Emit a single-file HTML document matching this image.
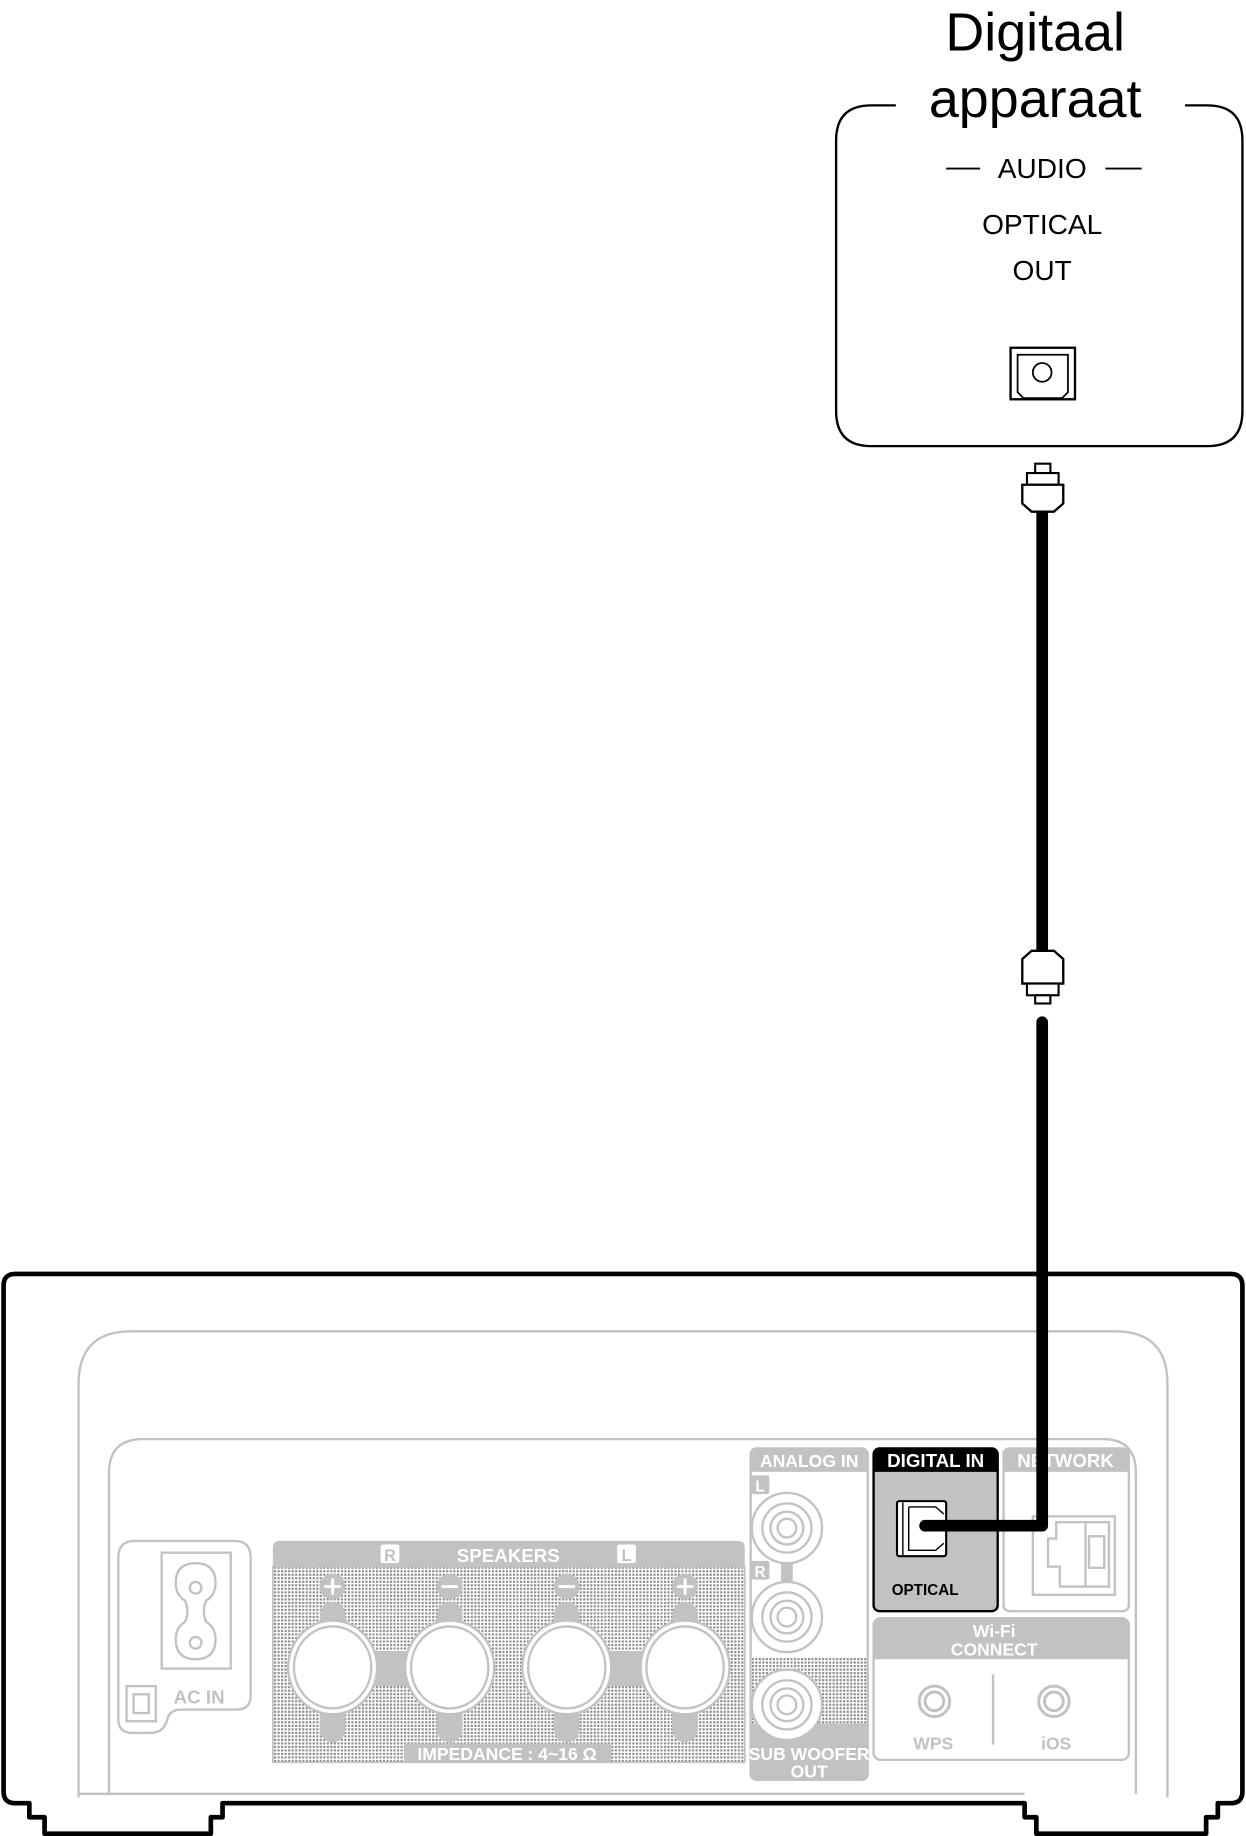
<!DOCTYPE html>
<html><head><meta charset="utf-8"><style>
html,body{margin:0;padding:0;background:#fff}
svg{display:block}
text{font-family:"Liberation Sans",Arial,sans-serif}
</style></head><body>
<svg width="1246" height="1836" viewBox="0 0 1064 1568" xmlns="http://www.w3.org/2000/svg">
<defs>
<pattern id="dots" width="3" height="3" patternUnits="userSpaceOnUse">
<rect width="3" height="3" fill="#fff"/><rect width="1.8" height="1.8" fill="#8a8a8a"/>
</pattern>
</defs>
<!-- Top device -->
<text x="884" y="43" font-size="46" text-anchor="middle">Digitaal</text>
<text x="884" y="100" font-size="46" text-anchor="middle">apparaat</text>
<path d="M765 90 H744 Q714 90 714 120 V351 Q714 381 744 381 H1031 Q1061 381 1061 351 V120 Q1061 90 1031 90 H1012" fill="none" stroke="#000" stroke-width="2"/>
<line x1="808" y1="144" x2="837" y2="144" stroke="#000" stroke-width="1.6"/>
<line x1="944" y1="144" x2="975" y2="144" stroke="#000" stroke-width="1.6"/>
<text x="890" y="152" font-size="24" text-anchor="middle">AUDIO</text>
<text x="890" y="200" font-size="24" text-anchor="middle">OPTICAL</text>
<text x="890" y="239" font-size="24" text-anchor="middle">OUT</text>
<rect x="863" y="297" width="55" height="44" fill="none" stroke="#000" stroke-width="2"/>
<path d="M869 303 H912 V335 L907 340 H874 L869 335 Z" fill="none" stroke="#000" stroke-width="1.5"/>
<circle cx="890" cy="318" r="8" fill="none" stroke="#000" stroke-width="1.5"/>
<!-- upper plug -->
<rect x="884" y="396" width="13" height="8" fill="#fff" stroke="#000" stroke-width="1.8"/>
<rect x="877" y="404" width="27" height="10" fill="#fff" stroke="#000" stroke-width="1.8"/>
<path d="M873 414 H908 V430 L900 437 H881 L873 430 Z" fill="#fff" stroke="#000" stroke-width="2"/>
<line x1="890" y1="437" x2="890" y2="812" stroke="#000" stroke-width="10"/>
<!-- lower plug -->
<path d="M881 812 H900 L908 819 V840 H873 V819 Z" fill="#fff" stroke="#000" stroke-width="2"/>
<rect x="877" y="840" width="27" height="10" fill="#fff" stroke="#000" stroke-width="1.8"/>
<rect x="884" y="850" width="13" height="7" fill="#fff" stroke="#000" stroke-width="1.8"/>
<!-- main frame -->
<path d="M25 1540 H13 Q3 1540 3 1530 V1098 Q3 1088 13 1088 H1051 Q1061 1088 1061 1098 V1530 Q1061 1540 1051 1540 H1040 V1552 H1030 V1566 H885 V1552 H875 V1540 H190 V1552 H180 V1566 H38 V1552 H25 Z" fill="#fff" stroke="#000" stroke-width="4" stroke-linejoin="round"/>
<!-- housing -->
<g fill="none" stroke="#c2c2c2" stroke-width="2">
<path d="M67 1535 V1182 Q67 1137 112 1137 H952 Q997 1137 997 1182 V1535"/>
<path d="M93 1532 V1258 Q93 1229 122 1229 H942 Q970 1229 970 1258 V1532"/>
<path d="M67 1532 H875 M190 1532 H93"/>
<path d="M101 1330 Q101 1316 115 1316 H200 Q214 1316 214 1330 V1448 Q214 1460 202 1460 H155 Q145 1460 143 1468 Q140 1480 128 1480 H113 Q101 1480 101 1468 Z"/>
<rect x="138" y="1326" width="59" height="99"/>
<path d="M150 1352 Q150 1335 167 1335 Q184 1335 184 1352 Q184 1362 176 1367 Q172 1376 176 1385 Q184 1390 184 1400 Q184 1417 167 1417 Q150 1417 150 1400 Q150 1390 158 1385 Q162 1376 158 1367 Q150 1362 150 1352 Z"/>
<circle cx="167" cy="1356" r="5"/><circle cx="167" cy="1403" r="5"/>
<rect x="108" y="1440" width="25" height="30"/><rect x="114" y="1447" width="13" height="16"/>
</g>
<text x="170" y="1455" font-size="16" font-weight="bold" fill="#c2c2c2" text-anchor="middle">AC IN</text>
<!-- speakers -->
<rect x="233" y="1338" width="403" height="167" fill="url(#dots)" stroke="#c2c2c2" stroke-width="1.5"/>
<path d="M233 1338 V1322 Q233 1316 239 1316 H630 Q636 1316 636 1322 V1338 Z" fill="#c2c2c2"/>
<text x="434" y="1334" font-size="16" font-weight="bold" fill="#fff" text-anchor="middle">SPEAKERS</text>
<rect x="325" y="1319" width="16" height="16" rx="2" fill="#fff"/><text x="333" y="1333" font-size="14" font-weight="bold" fill="#c2c2c2" text-anchor="middle">R</text>
<rect x="527" y="1319" width="16" height="16" rx="2" fill="#fff"/><text x="535" y="1333" font-size="14" font-weight="bold" fill="#c2c2c2" text-anchor="middle">L</text>
<rect x="284" y="1410" width="100" height="30" fill="#c2c2c2"/>
<rect x="484" y="1410" width="101" height="30" fill="#c2c2c2"/>
<g fill="#c2c2c2">
<rect x="273" y="1368" width="22" height="120" rx="11"/><rect x="373" y="1368" width="22" height="120" rx="11"/>
<rect x="473" y="1368" width="22" height="120" rx="11"/><rect x="574" y="1368" width="22" height="120" rx="11"/>
<circle cx="284" cy="1355" r="11"/><circle cx="384" cy="1355" r="11"/><circle cx="484" cy="1355" r="11"/><circle cx="585" cy="1355" r="11"/>
</g>
<g stroke="#fff" stroke-width="2.5">
<line x1="277" y1="1355" x2="291" y2="1355"/><line x1="284" y1="1348" x2="284" y2="1362"/>
<line x1="377" y1="1355" x2="391" y2="1355"/>
<line x1="477" y1="1355" x2="491" y2="1355"/>
<line x1="578" y1="1355" x2="592" y2="1355"/><line x1="585" y1="1348" x2="585" y2="1362"/>
</g>
<g fill="#fff" stroke="#c2c2c2" stroke-width="2">
<ellipse cx="284" cy="1424" rx="38" ry="40"/><ellipse cx="284" cy="1424" rx="33" ry="35"/>
<ellipse cx="384" cy="1424" rx="38" ry="40"/><ellipse cx="384" cy="1424" rx="33" ry="35"/>
<ellipse cx="484" cy="1424" rx="38" ry="40"/><ellipse cx="484" cy="1424" rx="33" ry="35"/>
<ellipse cx="585" cy="1424" rx="38" ry="40"/><ellipse cx="585" cy="1424" rx="33" ry="35"/>
</g>
<rect x="345" y="1489" width="177" height="16" fill="#c2c2c2"/>
<text x="433" y="1503" font-size="15" font-weight="bold" fill="#fff" text-anchor="middle">IMPEDANCE : 4~16 Ω</text>
<!-- analog in -->
<rect x="641" y="1237" width="100" height="283" rx="5" fill="#fff" stroke="#c2c2c2" stroke-width="2"/>
<rect x="642" y="1415" width="98" height="58" fill="url(#dots)"/>
<path d="M641 1257 V1242 Q641 1237 646 1237 H736 Q741 1237 741 1242 V1257 Z" fill="#c2c2c2"/>
<text x="691" y="1253" font-size="15" font-weight="bold" fill="#fff" text-anchor="middle">ANALOG IN</text>
<path d="M641 1472 H741 V1515 Q741 1520 736 1520 H646 Q641 1520 641 1515 Z" fill="#c2c2c2"/>
<text x="691" y="1503" font-size="15" font-weight="bold" fill="#fff" text-anchor="middle">SUB WOOFER</text>
<text x="691" y="1518" font-size="15" font-weight="bold" fill="#fff" text-anchor="middle">OUT</text>
<rect x="641" y="1260" width="16" height="16" rx="2" fill="#c2c2c2"/><text x="649" y="1274" font-size="13" font-weight="bold" fill="#fff" text-anchor="middle">L</text>
<rect x="641" y="1333" width="16" height="16" rx="2" fill="#c2c2c2"/><text x="649" y="1347" font-size="13" font-weight="bold" fill="#fff" text-anchor="middle">R</text>
<rect x="667" y="1320" width="10" height="45" fill="#c2c2c2"/>
<g fill="#fff" stroke="#c2c2c2" stroke-width="2">
<circle cx="672" cy="1305" r="30"/><circle cx="672" cy="1305" r="21"/><circle cx="672" cy="1305" r="14"/><circle cx="672" cy="1305" r="8"/>
<circle cx="672" cy="1381" r="30"/><circle cx="672" cy="1381" r="21"/><circle cx="672" cy="1381" r="14"/><circle cx="672" cy="1381" r="8"/>
<circle cx="672" cy="1456" r="30"/><circle cx="672" cy="1456" r="21"/><circle cx="672" cy="1456" r="14"/><circle cx="672" cy="1456" r="8"/>
</g>
<!-- digital in -->
<rect x="746" y="1237" width="106" height="139" rx="5" fill="#c2c2c2" stroke="#000" stroke-width="2"/>
<path d="M746 1257 V1242 Q746 1237 751 1237 H847 Q852 1237 852 1242 V1257 Z" fill="#000"/>
<text x="799" y="1253" font-size="16" font-weight="bold" fill="#fff" text-anchor="middle">DIGITAL IN</text>
<rect x="766" y="1282" width="42" height="47" rx="2" fill="#fff" stroke="#000" stroke-width="1.8"/>
<line x1="771" y1="1283" x2="771" y2="1328" stroke="#000" stroke-width="1.2"/>
<path d="M776 1287 H799 L806 1293 M806 1318 L799 1324 H776 V1287" fill="none" stroke="#000" stroke-width="1.2"/>
<text x="790" y="1362" font-size="13" font-weight="bold" fill="#000" text-anchor="middle">OPTICAL</text>
<!-- network -->
<rect x="857" y="1237" width="107" height="139" rx="5" fill="#fff" stroke="#c2c2c2" stroke-width="2"/>
<path d="M857 1257 V1242 Q857 1237 862 1237 H959 Q964 1237 964 1242 V1257 Z" fill="#c2c2c2"/>
<text x="910" y="1253" font-size="16" font-weight="bold" fill="#fff" text-anchor="middle">NETWORK</text>
<g fill="none" stroke="#c2c2c2" stroke-width="2">
<rect x="882" y="1295" width="70" height="67"/>
<path d="M927 1300 V1355 M902 1300 H947 V1355 H905 V1338 H895 V1314 H902 Z"/>
<rect x="930" y="1312" width="13" height="27"/>
</g>
<!-- cable lower -->
<path d="M890 873 V1303 H790" fill="none" stroke="#000" stroke-width="10" stroke-linecap="round" stroke-linejoin="round"/>
<!-- wifi -->
<rect x="746" y="1382" width="218" height="121" rx="6" fill="#fff" stroke="#c2c2c2" stroke-width="2"/>
<path d="M746 1417 V1388 Q746 1382 752 1382 H958 Q964 1382 964 1388 V1417 Z" fill="#c2c2c2"/>
<text x="849" y="1398" font-size="15" font-weight="bold" fill="#fff" text-anchor="middle">Wi-Fi</text>
<text x="849" y="1414" font-size="15" font-weight="bold" fill="#fff" text-anchor="middle">CONNECT</text>
<line x1="848" y1="1430" x2="848" y2="1490" stroke="#c2c2c2" stroke-width="2"/>
<g fill="none" stroke="#c2c2c2" stroke-width="2.5">
<circle cx="798" cy="1453" r="13"/><circle cx="798" cy="1453" r="8"/>
<circle cx="900" cy="1453" r="13"/><circle cx="900" cy="1453" r="8"/>
</g>
<text x="797" y="1494" font-size="15" font-weight="bold" fill="#c2c2c2" text-anchor="middle">WPS</text>
<text x="902" y="1494" font-size="15" font-weight="bold" fill="#c2c2c2" text-anchor="middle">iOS</text>
</svg>
</body></html>
